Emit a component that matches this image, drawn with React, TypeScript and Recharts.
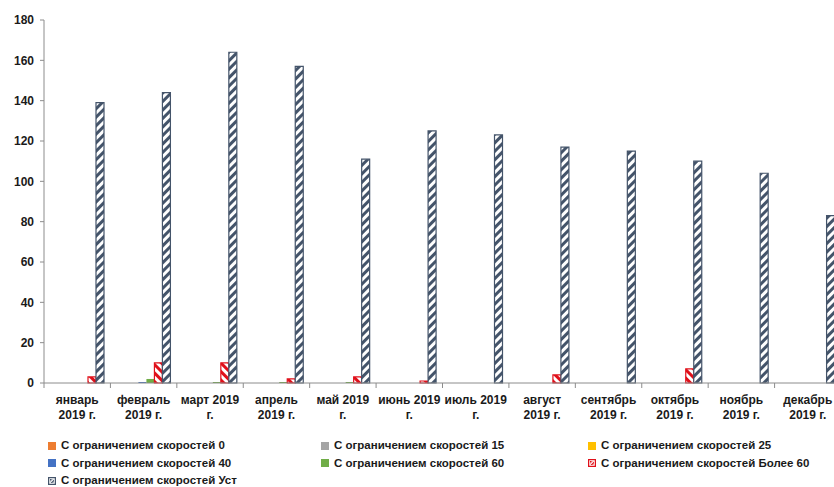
import React from "react";
import { BarChart, Bar, XAxis, YAxis } from "recharts";

// months, two-line labels
const monthLabels = [
  "январь\n2019 г.",
  "февраль\n2019 г.",
  "март 2019\nг.",
  "апрель\n2019 г.",
  "май 2019\nг.",
  "июнь 2019\nг.",
  "июль 2019\nг.",
  "август\n2019 г.",
  "сентябрь\n2019 г.",
  "октябрь\n2019 г.",
  "ноябрь\n2019 г.",
  "декабрь\n2019 г.",
];

const speed0 = [0, 0, 0, 0, 0, 0, 0, 0, 0, 0, 0, 0];
const speed15 = [0, 0, 0, 0, 0, 0, 0, 0, 0, 0, 0, 0];
const speed25 = [0, 0, 0, 0, 0, 0, 0, 0, 0, 0, 0, 0];
const speed40 = [0, 0.5, 0, 0, 0, 0, 0, 0, 0, 0, 0, 0];
const speed60 = [0, 2, 0.5, 0.5, 0.5, 0, 0, 0, 0, 0, 0, 0];
const speedOver60 = [3, 10, 10, 2, 3, 1, 0, 4, 0, 7, 0, 0];
const speedUst = [139, 144, 164, 157, 111, 125, 123, 117, 115, 110, 104, 83];

const yTicks = [0, 20, 40, 60, 80, 100, 120, 140, 160, 180];

const series = [
  { key: "s0", name: "С ограничением скоростей 0", values: speed0, fill: "#ED7D31", stroke: "none" },
  { key: "s15", name: "С ограничением скоростей 15", values: speed15, fill: "#A5A5A5", stroke: "none" },
  { key: "s25", name: "С ограничением скоростей 25", values: speed25, fill: "#FFC000", stroke: "none" },
  { key: "s40", name: "С ограничением скоростей 40", values: speed40, fill: "#4472C4", stroke: "none" },
  { key: "s60", name: "С ограничением скоростей 60", values: speed60, fill: "#70AD47", stroke: "none" },
  { key: "sOver", name: "С ограничением скоростей Более 60", values: speedOver60, fill: "url(#hatchRed)", stroke: "#E0101A" },
  { key: "sUst", name: "С ограничением скоростей Уст", values: speedUst, fill: "url(#hatchSlate)", stroke: "#44546A" },
];

const data = monthLabels.map((label, i) => {
  const row: any = { label };
  series.forEach((s) => (row[s.key] = s.values[i]));
  return row;
});

const CHART_W = 860;
const CHART_H = 420;
const Y_AXIS_W = 36;
const RIGHT = 27;
const STEP = (CHART_W - Y_AXIS_W - RIGHT) / monthLabels.length;
const FONT = "'Liberation Sans', Arial, sans-serif";
const TEXT = "#1a1a1a";
const AXIS = "#8c8c8c";

const MonthTick = ({ x, y, payload, index }: any) => {
  const lines = String(payload.value).split("\n");
  const half = STEP / 2;
  return (
    <g>
      <line x1={x - half} x2={x - half} y1={y} y2={y + 5} stroke={AXIS} />
      {index === monthLabels.length - 1 && (
        <line x1={x + half} x2={x + half} y1={y} y2={y + 5} stroke={AXIS} />
      )}
      <text x={x} y={y} textAnchor="middle" fill={TEXT} fontSize={12} fontWeight="bold" fontFamily={FONT}>
        {lines.map((l, i) => (
          <tspan key={i} x={x} dy={i === 0 ? 21 : 15}>
            {l}
          </tspan>
        ))}
      </text>
    </g>
  );
};

const LegendMark = ({ s }: any) => (
  <svg width={8} height={8} style={{ marginRight: 5, flex: "none" }}>
    <defs>
      <pattern id={`lg-${s.key}`} width={3} height={3} patternUnits="userSpaceOnUse" patternTransform="rotate(45)">
        <rect x={0} y={0} width={1.5} height={3} fill={s.stroke} />
      </pattern>
    </defs>
    {s.stroke === "none" ? (
      <rect x={0} y={0} width={8} height={8} fill={s.fill} />
    ) : (
      <rect x={0.5} y={0.5} width={7} height={7} fill="#fff" stroke={s.stroke} strokeWidth={1.5} />
    )}
    {s.stroke !== "none" && <rect x={2} y={2} width={4} height={4} fill={`url(#lg-${s.key})`} />}
  </svg>
);

const legendCols = [40, 313, 580];

const App: React.FC = () => {
  return (
    // fixed box so the page never scrolls and the plot may run off the right edge
    <div
      style={{
        position: "fixed",
        left: 8,
        top: 8,
        width: 826,
        height: 479,
        overflow: "hidden",
        background: "#fff",
      }}
    >
      <BarChart
        width={CHART_W}
        height={CHART_H}
        data={data}
        margin={{ top: 12, right: RIGHT, left: 0, bottom: 0 }}
        barCategoryGap={4}
        barGap={0}
      >
        <defs>
          <pattern id="hatchSlate" width={6} height={6} patternUnits="userSpaceOnUse" patternTransform="rotate(45)">
            <rect x={0} y={0} width={6} height={6} fill="#ffffff" />
            <rect x={0} y={0} width={3} height={6} fill="#44546A" />
          </pattern>
          <pattern id="hatchRed" width={6} height={6} patternUnits="userSpaceOnUse" patternTransform="rotate(-45)">
            <rect x={0} y={0} width={6} height={6} fill="#ffffff" />
            <rect x={0} y={0} width={3} height={6} fill="#E0101A" />
          </pattern>
        </defs>
        <XAxis
          dataKey="label"
          height={45}
          interval={0}
          tickLine={false}
          tickSize={0}
          tickMargin={0}
          stroke={AXIS}
          tick={<MonthTick />}
        />
        <YAxis
          width={Y_AXIS_W}
          domain={[0, 180]}
          ticks={yTicks}
          tickSize={4}
          tickMargin={6}
          stroke={AXIS}
          tick={{ fill: TEXT, fontSize: 12, fontWeight: "bold", fontFamily: FONT }}
        />
        {series.map((s) => (
          <Bar
            key={s.key}
            dataKey={s.key}
            name={s.name}
            fill={s.fill}
            stroke={s.stroke === "none" ? undefined : s.stroke}
            strokeWidth={1.2}
            isAnimationActive={false}
          />
        ))}
      </BarChart>
      {series.map((s, i) => (
        <div
          key={s.key}
          style={{
            position: "absolute",
            left: legendCols[i % 3],
            top: 431 + Math.floor(i / 3) * 17.5,
            display: "flex",
            alignItems: "center",
            fontFamily: FONT,
            fontSize: 11.5,
            fontWeight: "bold",
            color: TEXT,
            whiteSpace: "nowrap",
            lineHeight: "13px",
          }}
        >
          <LegendMark s={s} />
          {s.name}
        </div>
      ))}
    </div>
  );
};

export default App;
